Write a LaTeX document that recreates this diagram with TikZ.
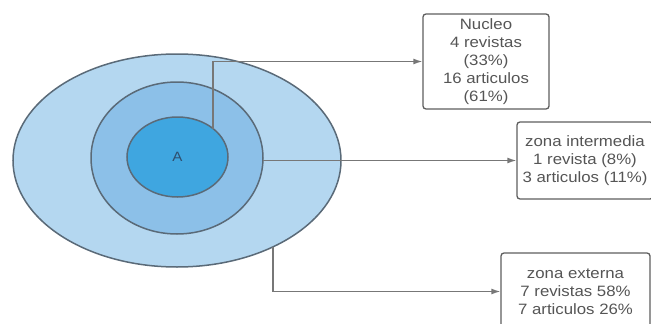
\documentclass[tikz,border=0pt]{standalone}
\usepackage{fontspec}
\setmainfont[FakeStretch=1.12]{Liberation Sans}
\usetikzlibrary{shapes.geometric,arrows.meta}
\definecolor{outerfill}{HTML}{B4D7F0}
\definecolor{midfill}{HTML}{8CC0E8}
\definecolor{innerfill}{HTML}{3FA6E0}
\definecolor{ringline}{HTML}{5A6A78}
\definecolor{txtgray}{HTML}{555555}
\definecolor{conngray}{HTML}{777777}
\definecolor{boxline}{HTML}{5E5E5E}
\definecolor{labelA}{HTML}{2F4F6F}
\tikzset{
  ring/.style={ellipse, draw=ringline, line width=1.5pt, inner sep=0pt},
  infobox/.style={draw=boxline, line width=1.3pt, rounded corners=3pt, fill=white,
    align=center, text=txtgray, inner sep=0pt,
    font=\fontsize{15pt}{18pt}\selectfont},
  conn/.style={draw=conngray, line width=1.3pt, -{Latex[length=9pt,width=6pt]}}
}
\begin{document}
\begin{tikzpicture}[x=1pt,y=-1pt]
\clip (0,0) rectangle (651,324);
\fill[white] (0,0) rectangle (651,324);
% rings
\node[ring, fill=outerfill, minimum width=328pt, minimum height=213pt] (outer) at (177,160.5) {};
\node[ring, fill=midfill, minimum width=172pt, minimum height=152pt] (middle) at (177,158) {};
\node[ring, fill=innerfill, minimum width=101pt, minimum height=80pt] (inner) at (177.5,157) {};
\node[text=labelA, font=\fontsize{13.5pt}{16pt}\selectfont] (a) at (inner.center) {A};
% boxes
\node[infobox, minimum width=126pt, minimum height=95pt] (nucleo) at (486,61.5)
  {Nucleo\\4 revistas\\(33\%)\\16 articulos\\(61\%)};
\node[infobox, minimum width=136pt, minimum height=77pt] (inter) at (585,160.5)
  {zona intermedia\\1 revista (8\%)\\3 articulos (11\%)};
\node[infobox, minimum width=149pt, minimum height=77pt] (externa) at (575.5,291.5)
  {zona externa\\7 revistas 58\%\\7 articulos 26\%};
% connectors
\coordinate (s1) at (213,128.5);
\coordinate (s2) at (263,160.5);
\coordinate (s3) at (273,246.8);
\draw[conn] (s1) |- (nucleo.west);
\draw[conn] (s2) -- (inter.west);
\draw[conn] (s3) |- (externa.west);
\end{tikzpicture}
\end{document}
